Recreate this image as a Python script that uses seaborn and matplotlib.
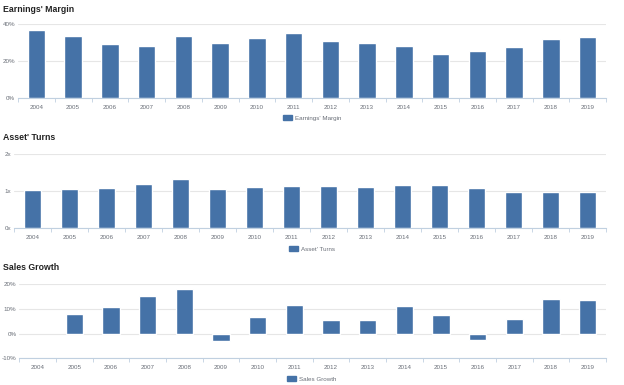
import matplotlib
matplotlib.use("Agg")
import matplotlib.pyplot as plt
from matplotlib.patches import Patch
import numpy as np
import pandas as pd
import seaborn as sns

sns.set_style("white")
plt.rcParams["font.family"] = ["Liberation Sans", "DejaVu Sans"]

# data
years = [str(y) for y in range(2004, 2020)]
earnings_margin = [36.9, 33.3, 29.2, 27.9, 33.3, 29.7, 32.6, 34.9,
                   31.0, 29.9, 27.9, 23.8, 25.4, 27.6, 31.7, 33.0]
asset_turns = [1.04, 1.05, 1.09, 1.18, 1.34, 1.05, 1.11, 1.13,
               1.14, 1.10, 1.16, 1.16, 1.07, 0.96, 0.98, 0.98]
sales_growth = [np.nan, 7.9, 10.9, 15.2, 17.9, -3.2, 6.8, 11.7,
                5.5, 5.5, 11.2, 7.5, -2.5, 5.9, 13.9, 13.6]

BAR = "#4572A7"
AXIS = "#C0D0E0"
GRID = "#E6E6E6"
TXT = "#6a6f78"

panels = [
    dict(title="Earnings' Margin", vals=earnings_margin, label="Earnings' Margin",
         ticks=[0, 20, 40], labels=["0%", "20%", "40%"], ylim=(0, 40),
         rect=[18 / 624, 1 - 98 / 385, 588 / 624, 74 / 385], ty=1 - 10 / 385, ly=1 - 118 / 385),
    dict(title="Asset' Turns", vals=asset_turns, label="Asset' Turns",
         ticks=[0, 1, 2], labels=["0x", "1x", "2x"], ylim=(0, 2),
         rect=[14 / 624, 1 - 227.7 / 385, 592 / 624, 73.4 / 385], ty=1 - 138 / 385, ly=1 - 249 / 385),
    dict(title="Sales Growth", vals=sales_growth, label="Sales Growth",
         ticks=[-10, 0, 10, 20], labels=["-10%", "0%", "10%", "20%"], ylim=(-10, 20),
         rect=[19.3 / 624, 1 - 358.3 / 385, 586.7 / 624, 74.3 / 385], ty=1 - 267 / 385, ly=1 - 379 / 385),
]

fig = plt.figure(figsize=(6.24, 3.85), dpi=100)

for p in panels:
    ax = fig.add_axes(p["rect"])
    df = pd.DataFrame({"year": years, "value": p["vals"]})
    sns.barplot(data=df, x="year", y="value", color=BAR, width=0.47,
                saturation=1, ax=ax, zorder=3)
    ax.set_xlim(-0.5, len(years) - 0.5)
    ax.set_ylim(*p["ylim"])
    ax.set_yticks(p["ticks"])
    ax.set_yticklabels(p["labels"])
    ax.set_xlabel("")
    ax.set_ylabel("")
    ax.grid(axis="y", color=GRID, linewidth=0.8, zorder=0)
    ax.grid(axis="x", visible=False)
    for s in ["top", "right", "left"]:
        ax.spines[s].set_visible(False)
    ax.spines["bottom"].set_color(AXIS)
    ax.spines["bottom"].set_linewidth(0.8)
    ax.tick_params(axis="y", length=0, pad=2, labelsize=4.5, labelcolor=TXT)
    ax.tick_params(axis="x", which="major", length=0, pad=5, labelsize=4.5, labelcolor=TXT)
    ax.set_xticks(np.arange(-0.5, len(years), 1), minor=True)
    ax.tick_params(axis="x", which="minor", bottom=True, length=3, color=AXIS, width=0.6)
    fig.text(0.005, p["ty"], p["title"], fontsize=6.3, fontweight="bold",
             color="#222222", va="center", ha="left")
    fig.legend(handles=[Patch(color=BAR, label=p["label"])], loc="center",
               bbox_to_anchor=(0.5, p["ly"]), frameon=False, fontsize=4.5,
               labelcolor=TXT, handlelength=1.4, handleheight=0.8,
               handletextpad=0.5, borderpad=0)

fig.savefig("out.png", dpi=100)
